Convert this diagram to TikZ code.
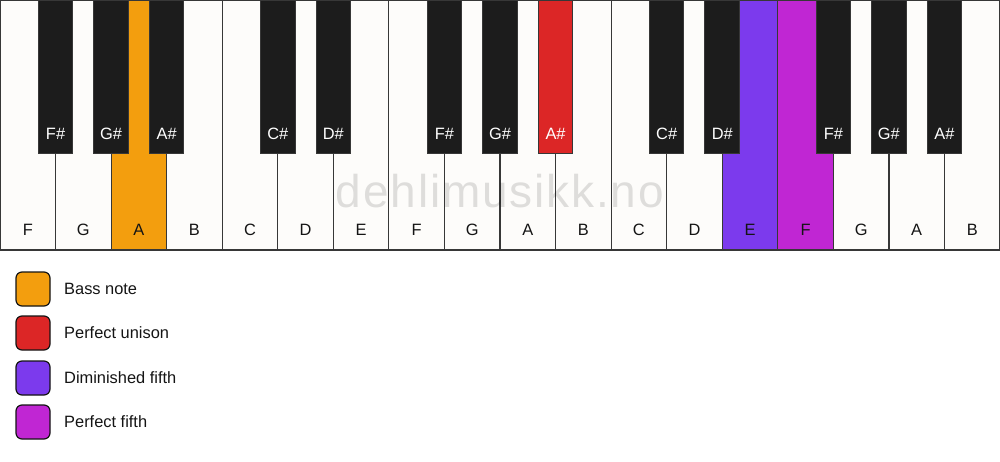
\documentclass[tikz,border=0pt]{standalone}
\usepackage{fontspec}
\setmainfont{Liberation Sans}
\newfontfamily\markfont[LetterSpace=4]{Liberation Sans}
\usepackage{xcolor}
\usepackage{tikz}
\usetikzlibrary{positioning}
\definecolor{keywhite}{RGB}{253,252,250}
\definecolor{keyblack}{RGB}{28,28,28}
\definecolor{keyline}{RGB}{55,55,55}
\definecolor{bassorange}{RGB}{243,158,14}
\definecolor{unisonred}{RGB}{220,38,38}
\definecolor{dimviolet}{RGB}{124,58,237}
\definecolor{fifthpink}{RGB}{192,38,211}
\definecolor{inkdark}{RGB}{20,20,20}
\tikzset{
  % 白键
  whitekey/.style={
    draw=keyline,
    line width=0.9pt,
    fill=keywhite,
    minimum width=41.67pt,
    minimum height=187.5pt,
    inner sep=0pt,
    outer sep=0pt,
    anchor=north west
  },
  % 黑键
  blackkey/.style={
    draw=keyline,
    line width=0.75pt,
    fill=keyblack,
    minimum width=25.9pt,
    minimum height=114.75pt,
    inner sep=0pt,
    outer sep=0pt,
    anchor=north
  },
  % 键上的音名
  keytext/.style={font=\fontsize{12.3pt}{14pt}\selectfont, text=inkdark, inner sep=0pt},
  % 图例方块
  swatch/.style={
    draw=inkdark,
    line width=0.9pt,
    rounded corners=4.5pt,
    minimum size=25.5pt,
    inner sep=0pt
  },
  legtext/.style={font=\fontsize{12.3pt}{14pt}\selectfont, text=inkdark, inner sep=0pt, anchor=west},
}

\begin{document}
\begin{tikzpicture}[x=0.75pt, y=-0.75pt]
    \useasboundingbox (0,0) rectangle (1000,461);

    % White keys
    \foreach \n/\col [count=\i from 0] in {F/keywhite, G/keywhite, A/bassorange, B/keywhite, C/keywhite, D/keywhite, E/keywhite, F/keywhite, G/keywhite, A/keywhite, B/keywhite, C/keywhite, D/keywhite, E/dimviolet, F/fifthpink, G/keywhite, A/keywhite, B/keywhite}{
        \node[whitekey, fill=\col] (w\i) at (\i*55.556, 0) {};
        \node[keytext] (wl\i) at ([yshift=15pt]w\i.south) {\n};
    }

    % Watermark
    \node[font=\markfont\fontsize{34.5pt}{40pt}\selectfont, text=black, text opacity=0.12] (mark) at (500,191.5) {dehlimusikk.no};

    % Black keys
    \foreach \k/\n/\col in {1/F\#/keyblack, 2/G\#/keyblack, 3/A\#/keyblack, 5/C\#/keyblack, 6/D\#/keyblack, 8/F\#/keyblack, 9/G\#/keyblack, 10/A\#/unisonred, 12/C\#/keyblack, 13/D\#/keyblack, 15/F\#/keyblack, 16/G\#/keyblack, 17/A\#/keyblack}{
        \node[blackkey, fill=\col] (b\k) at (\k*55.556, 0) {};
        \node[keytext, text=white] (bl\k) at ([yshift=14.5pt]b\k.south) {\n};
    }

    % Legend
    \foreach \y/\col/\txt [count=\i] in {289/bassorange/Bass note, 333/unisonred/Perfect unison, 378/dimviolet/Diminished fifth, 422/fifthpink/Perfect fifth}{
        \node[swatch, fill=\col] (s\i) at (33,\y) {};
        \node[legtext, right=10pt of s\i] (t\i) {\txt};
    }
\end{tikzpicture}
\end{document}
